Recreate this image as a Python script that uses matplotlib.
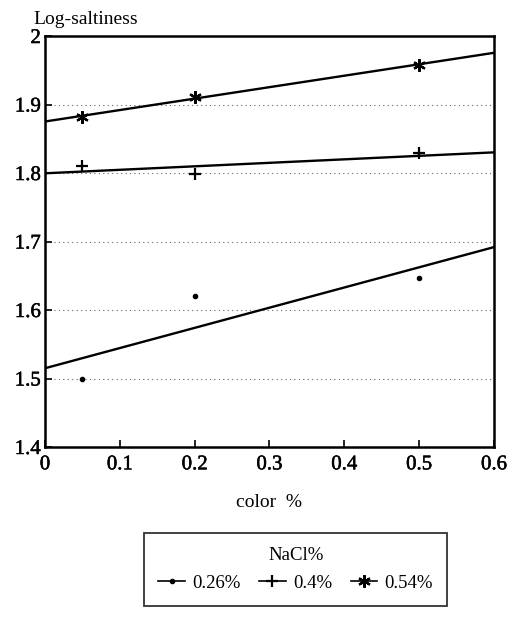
import numpy as np
import matplotlib
matplotlib.use("Agg")
import matplotlib.pyplot as plt
import matplotlib.patheffects as pe
from matplotlib.lines import Line2D

plt.rcParams['font.family'] = ['Liberation Serif', 'DejaVu Serif']

# Measured log-saltiness for each NaCl level at three colour concentrations
color_pct = [0.05, 0.2, 0.5]
nacl_labels = ['0.26%', '0.4%', '0.54%']
saltiness_026 = [1.499, 1.620, 1.647]
saltiness_040 = [1.810, 1.798, 1.829]
saltiness_054 = [1.882, 1.911, 1.958]

x_ticks = [0, 0.1, 0.2, 0.3, 0.4, 0.5, 0.6]
x_tick_labels = ['0', '0.1', '0.2', '0.3', '0.4', '0.5', '0.6']
y_ticks = [1.4, 1.5, 1.6, 1.7, 1.8, 1.9, 2.0]
y_tick_labels = ['1.4', '1.5', '1.6', '1.7', '1.8', '1.9', '2']

series = [saltiness_026, saltiness_040, saltiness_054]
markers = [dict(marker='o', ms=3),
           dict(marker='+', ms=9, mew=1.6),
           dict(marker=(6, 2, 0), ms=9, mew=1.6)]

heavy = [pe.withStroke(linewidth=0.35, foreground='black')]

fig = plt.figure(figsize=(5.19, 6.18), dpi=100)
ax = fig.add_axes([0.0867, 0.2767, 0.8651, 0.665])

xfit = np.array([0.0, 0.6])
handles = []
for ys, mk, lab in zip(series, markers, nacl_labels):
    ax.plot(color_pct, ys, linestyle='none', color='black', **mk)
    slope, intercept = np.polyfit(color_pct, ys, 1)
    ax.plot(xfit, intercept + slope * xfit, color='black', lw=1.7)
    handles.append(Line2D([], [], color='black', lw=1.2, label=lab, **mk))

for yv in [1.5, 1.6, 1.7, 1.8, 1.9]:
    ax.axhline(yv, color='black', lw=0.8, ls=(0, (1, 3)), alpha=0.6, zorder=0)

ax.set_xlim(0, 0.6)
ax.set_ylim(1.4, 2.0)
ax.set_xticks(x_ticks)
ax.set_xticklabels(x_tick_labels)
ax.set_yticks(y_ticks)
ax.set_yticklabels(y_tick_labels)
ax.tick_params(direction='in', length=5, width=1.2, labelsize=15)
ax.tick_params(axis='x', pad=6)
ax.tick_params(axis='y', pad=3)
for lbl in ax.get_xticklabels() + ax.get_yticklabels():
    lbl.set_path_effects(heavy)
for s in ax.spines.values():
    s.set_linewidth(1.8)

ax.set_xlabel('color  %', fontsize=14, labelpad=14)
fig.text(0.064, 0.968, 'Log-saltiness', fontsize=14, ha='left', va='center')

leg = fig.legend(handles=handles, title='NaCl%', ncol=3,
                 loc='center', bbox_to_anchor=(0.570, 0.0785),
                 fontsize=13.5, title_fontsize=13.5, frameon=True,
                 fancybox=False, edgecolor='black', handlelength=1.4,
                 handletextpad=0.4, columnspacing=1.0, borderpad=0.75,
                 labelspacing=0.55)
leg.get_frame().set_linewidth(1.3)

fig.savefig('out.png', dpi=100)
